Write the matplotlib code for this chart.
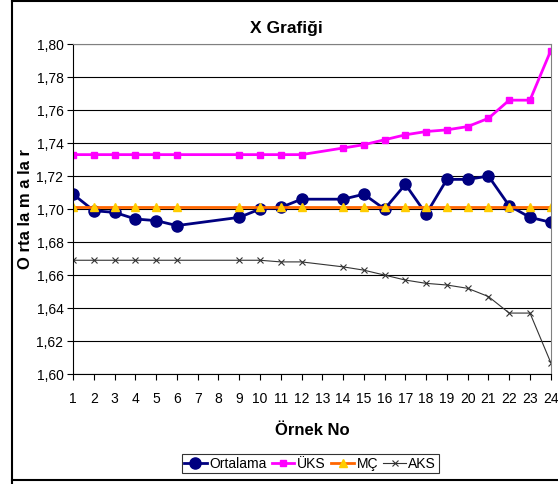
import numpy as np
import matplotlib.pyplot as plt
from matplotlib.lines import Line2D

plt.rcParams['font.family'] = ['Liberation Sans', 'DejaVu Sans']

# ornek numaralari (7, 8, 13 yok)
ornek = [1, 2, 3, 4, 5, 6, 9, 10, 11, 12, 14, 15, 16, 17, 18, 19, 20, 21, 22, 23, 24]
ortalama = [1.709, 1.699, 1.698, 1.694, 1.693, 1.690, 1.695, 1.700, 1.701, 1.706,
            1.706, 1.709, 1.700, 1.715, 1.697, 1.718, 1.718, 1.720, 1.702, 1.695, 1.692]
uks = [1.733, 1.733, 1.733, 1.733, 1.733, 1.733, 1.733, 1.733, 1.733, 1.733,
       1.737, 1.739, 1.742, 1.745, 1.747, 1.748, 1.750, 1.755, 1.766, 1.766, 1.796]
mc = [1.701] * len(ornek)
aks = [1.669, 1.669, 1.669, 1.669, 1.669, 1.669, 1.669, 1.669, 1.668, 1.668,
       1.665, 1.663, 1.660, 1.657, 1.655, 1.654, 1.652, 1.647, 1.637, 1.637, 1.607]
yticks = [1.60, 1.62, 1.64, 1.66, 1.68, 1.70, 1.72, 1.74, 1.76, 1.78, 1.80]

fig = plt.figure(figsize=(5.58, 4.84), dpi=100)
ax = fig.add_axes([0.131, 0.227, 0.856, 0.682])

ax.plot(ornek, ortalama, color='#000080', lw=2, marker='o', ms=8, label='Ortalama')
ax.plot(ornek, uks, color='#FF00FF', lw=2, marker='s', ms=5, label='ÜKS')
ax.plot(ornek, mc, color='#FF6600', lw=2, marker='^', ms=6, mfc='#FFCC00',
        mec='#FFCC00', label='MÇ')
ax.plot(ornek, aks, color='#333333', lw=0.8, marker='x', ms=5, mew=0.8, label='AKS')

ax.set_xlim(1, 24)
ax.set_ylim(1.60, 1.80)
ax.set_xticks(range(1, 25))
ax.set_yticks(yticks)
ax.set_yticklabels([f'{v:.2f}'.replace('.', ',') for v in yticks])
ax.tick_params(labelsize=10, length=4, direction='out')
ax.tick_params(axis='x', pad=9)
ax.tick_params(axis='y', pad=3)
ax.yaxis.grid(True, color='black', lw=0.8)
ax.set_axisbelow(True)
ax.spines['top'].set_color('#808080')
ax.spines['right'].set_color('#808080')

fig.text(0.514, 0.941, 'X Grafiği', fontsize=12.5, fontweight='bold', ha='center', va='center')
fig.text(0.045, 0.568, 'O rta la m a la r', fontsize=12, fontweight='bold',
         rotation=90, ha='center', va='center')
ax.set_xlabel('Örnek No', fontsize=12, fontweight='bold', labelpad=12)

leg = fig.legend(loc='center', bbox_to_anchor=(0.556, 0.042), ncol=4, fontsize=10,
                 frameon=True, fancybox=False, edgecolor='black', handlelength=1.6,
                 columnspacing=0.4, handletextpad=0.2, borderpad=0.2, borderaxespad=0)
leg.get_frame().set_linewidth(0.8)

# cerceve
fig.lines.append(Line2D([12 / 558, 12 / 558], [0, 1], transform=fig.transFigure,
                        color='black', lw=1.5))
fig.lines.append(Line2D([12 / 558, 1], [0.998, 0.998], transform=fig.transFigure,
                        color='black', lw=1.5))
fig.lines.append(Line2D([12 / 558, 1], [4 / 484, 4 / 484], transform=fig.transFigure,
                        color='black', lw=1.5))

fig.savefig('out.png', dpi=100)
